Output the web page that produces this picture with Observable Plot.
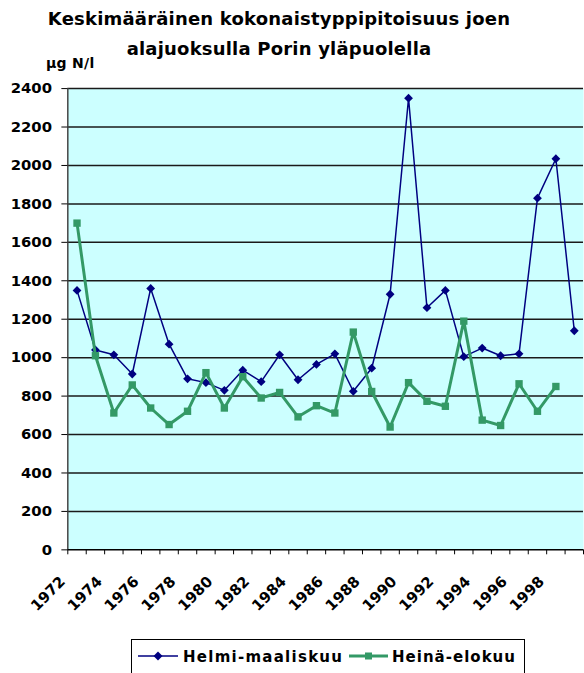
<!DOCTYPE html>
<html><head><meta charset="utf-8">
<script src="https://cdn.jsdelivr.net/npm/d3@7"></script>
<script src="https://cdn.jsdelivr.net/npm/@observablehq/plot@0.6"></script>
<style>
html,body{margin:0;padding:0;background:#fff;overflow:hidden;width:584px;height:673px;}
#wrap{position:relative;width:584px;height:673px;overflow:hidden;font-family:"DejaVu Sans",sans-serif;font-weight:bold;color:#000}
#title{position:absolute;left:0;top:4px;width:558px;text-align:center;font-size:18px;line-height:30px;letter-spacing:0.2px;white-space:nowrap}
#unit{position:absolute;left:46px;top:56px;font-size:14px;line-height:14px;letter-spacing:0.3px;white-space:nowrap}
#chart{position:absolute;left:0;top:0}
#legend{position:absolute;left:131px;top:639px;width:392px;height:40px;border:1px solid #000;background:#fff}
</style></head>
<body><div id="wrap">
<div id="chart"></div>
<div id="title">Keskimääräinen kokonaistyppipitoisuus joen<br>alajuoksulla Porin yläpuolella</div>
<div id="unit">µg N/l</div>
<div id="legend"></div>
</div>
<script>
const years = [1972,1973,1974,1975,1976,1977,1978,1979,1980,1981,1982,1983,1984,1985,1986,1987,1988,1989,1990,1991,1992,1993,1994,1995,1996,1997,1998,1999];
const helmi = [1350,1040,1015,915,1360,1070,890,870,830,935,875,1015,885,965,1020,825,945,1330,2350,1260,1350,1005,1050,1010,1020,1830,2035,1140];
const heina = [1700,1010,712,858,738,652,721,922,738,901,790,819,692,750,712,1133,824,639,870,773,747,1190,675,647,864,721,850,null];
const yTicks = [0,200,400,600,800,1000,1200,1400,1600,1800,2000,2200,2400];
const xLabels = ["1972","1974","1976","1978","1980","1982","1984","1986","1988","1990","1992","1994","1996","1998"];
const seriesNames = ["Helmi-maaliskuu","Heinä-elokuu"];
const colors = ["#000080","#339966"];

const data = years.map((y,i)=>({year:y, helmi:helmi[i], heina:heina[i]}));
const boundaries = [years[0]-0.5, ...years.map(y=>y+0.5)];

const plot = Plot.plot({
  width: 590, height: 625,
  marginLeft: 68, marginRight: 1, marginTop: 89, marginBottom: 70,
  style: {fontFamily: '"DejaVu Sans", sans-serif', fontSize: "15px", fontWeight: "bold", background: "transparent", color: "#000"},
  x: {domain: [years[0]-0.5, years[years.length-1]+0.5]},
  y: {domain: [0, 2400]},
  marks: [
    Plot.frame({fill: "#ccffff"}),
    Plot.ruleY(yTicks.slice(1), {stroke: "#1a1a1a", strokeWidth: 1.5}),
    Plot.ruleX([years[0]-0.5], {stroke: "#444", strokeWidth: 1.5}),
    Plot.ruleY([0], {stroke: "#000", strokeWidth: 1.5}),
    Plot.axisY({ticks: yTicks, tickSize: 6, tickPadding: 10, tickFormat: "d", label: null, stroke: "#000"}),
    Plot.axisX({ticks: boundaries, tickSize: 5, tickFormat: () => "", label: null, stroke: "#000"}),
    Plot.text(xLabels, {x: d => +d, text: d => d, frameAnchor: "bottom", rotate: -45, textAnchor: "end", lineAnchor: "bottom", dx: -11, dy: 33, fontSize: 15}),
    Plot.line(data, {x:"year", y:"helmi", stroke: colors[0], strokeWidth: 1.5}),
    Plot.dot(data, {x:"year", y:"helmi", symbol: "diamond2", r: 4, fill: colors[0]}),
    Plot.line(data, {x:"year", y:"heina", stroke: colors[1], strokeWidth: 3}),
    Plot.dot(data, {x:"year", y:"heina", symbol: "square", r: 4.2, fill: colors[1]})
  ]
});
document.getElementById("chart").appendChild(plot);

// legend
const lg = d3.select("#legend").append("svg").attr("width", 392).attr("height", 38)
  .style("position","absolute").style("left","0").style("top","0")
  .style("font-family",'"DejaVu Sans", sans-serif').style("font-weight","bold").style("font-size","15px");
const items = [
  {x0: 6, x1: 46, tx: 51, len: 159, sym: "diamond"},
  {x0: 217, x1: 256, tx: 260, len: 123, sym: "square"}
];
items.forEach((it,i)=>{
  lg.append("line").attr("x1", it.x0).attr("x2", it.x1).attr("y1", 16).attr("y2", 16)
    .attr("stroke", colors[i]).attr("stroke-width", i===0 ? 1.5 : 3);
  const cx = (it.x0+it.x1)/2;
  if (it.sym === "diamond") {
    lg.append("path").attr("d", d3.symbol(d3.symbolDiamond2, 51)()).attr("transform", `translate(${cx},16)`).attr("fill", colors[i]);
  } else {
    lg.append("rect").attr("x", cx-3.5).attr("y", 12.5).attr("width", 7).attr("height", 7).attr("fill", colors[i]);
  }
  lg.append("text").attr("x", it.tx).attr("y", 22).attr("textLength", it.len).attr("lengthAdjust","spacing").text(seriesNames[i]);
});
</script>
</body></html>
